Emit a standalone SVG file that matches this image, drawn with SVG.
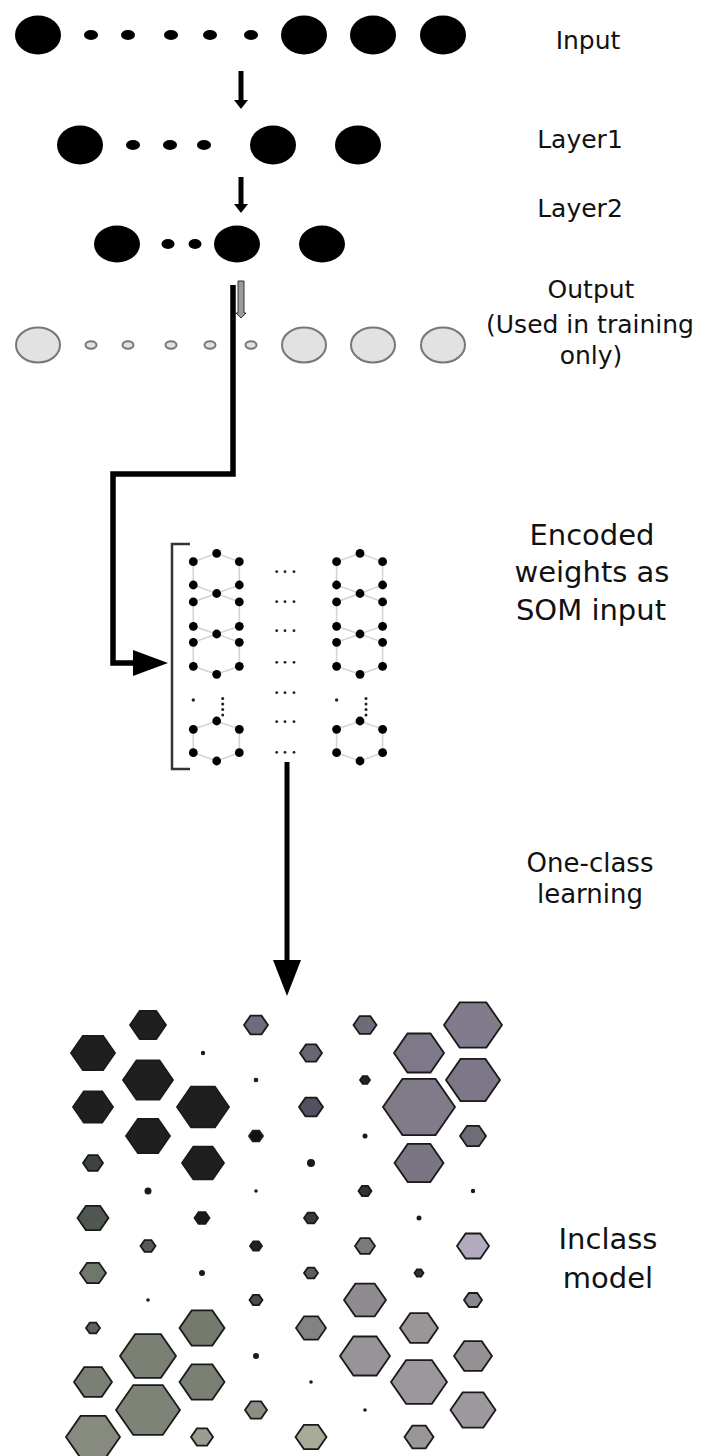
<svg xmlns="http://www.w3.org/2000/svg" xmlns:xlink="http://www.w3.org/1999/xlink" width="701" height="1456" viewBox="0 0 701 1456">
<style>
.lbl{font-family:"DejaVu Sans","Liberation Sans",sans-serif;font-size:25px;fill:#111;text-anchor:middle}
.big{font-size:29px}
.mid{font-size:26px}
.blk{fill:#000}
.out{fill:#e2e2e2;stroke:#777;stroke-width:2}
.edge{fill:none;stroke:#d4d4d4;stroke-width:1.6}
.nd{fill:#000}
.sd{fill:#222}
.conn{fill:none;stroke:#000;stroke-width:5.5}
.dot{fill:#1a1a1a}
</style>
<defs>
<path id="hx" d="M-1,0 L-0.46,-0.78 L0.46,-0.78 L1,0 L0.46,0.78 L-0.46,0.78 Z" stroke="#1a1a1a" stroke-width="1.8" vector-effect="non-scaling-stroke"/>
<g id="somcol">
<path class="edge" d="M216.7,553.3 L193.3,561.7 L193.3,585 L216.7,593.5 L239.3,585 L239.3,561.7 Z M216.7,593.5 L193.3,601.9 L193.3,626.3 L216.7,634 L239.3,626.3 L239.3,601.9 Z M216.7,634 L193.3,642.3 L193.3,666.3 L216.7,674.3 L239.3,666.3 L239.3,642.3 Z M216.7,721 L193.3,729.3 L193.3,752.7 L216.7,761 L239.3,752.7 L239.3,729.3 Z"/>
<circle class="nd" cx="216.7" cy="553.3" r="4.4"/>
<circle class="nd" cx="193.3" cy="561.7" r="4.4"/>
<circle class="nd" cx="239.3" cy="561.7" r="4.4"/>
<circle class="nd" cx="193.3" cy="585" r="4.4"/>
<circle class="nd" cx="239.3" cy="585" r="4.4"/>
<circle class="nd" cx="216.7" cy="593.5" r="4.4"/>
<circle class="nd" cx="193.3" cy="601.9" r="4.4"/>
<circle class="nd" cx="239.3" cy="601.9" r="4.4"/>
<circle class="nd" cx="193.3" cy="626.3" r="4.4"/>
<circle class="nd" cx="239.3" cy="626.3" r="4.4"/>
<circle class="nd" cx="216.7" cy="634" r="4.4"/>
<circle class="nd" cx="193.3" cy="642.3" r="4.4"/>
<circle class="nd" cx="239.3" cy="642.3" r="4.4"/>
<circle class="nd" cx="193.3" cy="666.3" r="4.4"/>
<circle class="nd" cx="239.3" cy="666.3" r="4.4"/>
<circle class="nd" cx="216.7" cy="674.3" r="4.4"/>
<circle class="nd" cx="216.7" cy="721" r="4.4"/>
<circle class="nd" cx="193.3" cy="729.3" r="4.4"/>
<circle class="nd" cx="239.3" cy="729.3" r="4.4"/>
<circle class="nd" cx="193.3" cy="752.7" r="4.4"/>
<circle class="nd" cx="239.3" cy="752.7" r="4.4"/>
<circle class="nd" cx="216.7" cy="761" r="4.4"/>
<circle class="sd" cx="193.3" cy="700" r="1.7"/>
<circle class="sd" cx="222.7" cy="698.5" r="1.5"/>
<circle class="sd" cx="222.7" cy="704" r="1.5"/>
<circle class="sd" cx="222.7" cy="709.5" r="1.5"/>
<circle class="sd" cx="222.7" cy="715" r="1.5"/>
</g>
</defs>
<rect width="701" height="1456" fill="#fff"/>

<g id="input">
<ellipse class="blk" cx="38" cy="35" rx="23" ry="19.5"/>
<ellipse class="blk" cx="91" cy="35" rx="7" ry="5"/>
<ellipse class="blk" cx="128" cy="35" rx="7" ry="5"/>
<ellipse class="blk" cx="171" cy="35" rx="7" ry="5"/>
<ellipse class="blk" cx="210" cy="35" rx="7" ry="5"/>
<ellipse class="blk" cx="251" cy="35" rx="7" ry="5"/>
<ellipse class="blk" cx="304" cy="35" rx="23" ry="19.5"/>
<ellipse class="blk" cx="373" cy="35" rx="23" ry="19.5"/>
<ellipse class="blk" cx="443" cy="35" rx="23" ry="19.5"/>
<text class="lbl" x="588" y="49">Input</text>
</g>

<g id="layer1">
<ellipse class="blk" cx="80" cy="145" rx="23" ry="19.5"/>
<ellipse class="blk" cx="133" cy="145" rx="7" ry="5"/>
<ellipse class="blk" cx="170" cy="145" rx="7" ry="5"/>
<ellipse class="blk" cx="204" cy="145" rx="7" ry="5"/>
<ellipse class="blk" cx="273" cy="145" rx="23" ry="19.5"/>
<ellipse class="blk" cx="358" cy="145" rx="23" ry="19.5"/>
<text class="lbl" x="580" y="148">Layer1</text>
</g>

<g id="layer2">
<ellipse class="blk" cx="117" cy="244" rx="23" ry="18.5"/>
<ellipse class="blk" cx="168" cy="244" rx="6.5" ry="5"/>
<ellipse class="blk" cx="195" cy="244" rx="6.5" ry="5"/>
<ellipse class="blk" cx="237" cy="244" rx="23" ry="18.5"/>
<ellipse class="blk" cx="322" cy="244" rx="23" ry="18.5"/>
<text class="lbl" x="580" y="217">Layer2</text>
</g>

<g id="output">
<ellipse class="out" cx="38" cy="345" rx="22" ry="17.5"/>
<ellipse class="out" cx="91" cy="345" rx="5.5" ry="3.8"/>
<ellipse class="out" cx="128" cy="345" rx="5.5" ry="3.8"/>
<ellipse class="out" cx="171" cy="345" rx="5.5" ry="3.8"/>
<ellipse class="out" cx="210" cy="345" rx="5.5" ry="3.8"/>
<ellipse class="out" cx="251" cy="345" rx="5.5" ry="3.8"/>
<ellipse class="out" cx="304" cy="345" rx="22" ry="17.5"/>
<ellipse class="out" cx="373" cy="345" rx="22" ry="17.5"/>
<ellipse class="out" cx="443" cy="345" rx="22" ry="17.5"/>
<text class="lbl" x="591" y="298">Output</text>
<text class="lbl" x="590" y="333">(Used in training</text>
<text class="lbl" x="591" y="364">only)</text>
</g>

<g id="som-input">
<path d="M190,544 L172,544 L172,769 L190,769" fill="none" stroke="#333" stroke-width="2.5"/>
<use xlink:href="#somcol" href="#somcol"/>
<use xlink:href="#somcol" href="#somcol" transform="translate(143.3,0)"/>
<g class="sd">
<circle cx="276.7" cy="571.7" r="1.4"/><circle cx="285" cy="571.7" r="1.4"/><circle cx="294" cy="571.7" r="1.4"/>
<circle cx="276.7" cy="601.7" r="1.4"/><circle cx="285" cy="601.7" r="1.4"/><circle cx="294" cy="601.7" r="1.4"/>
<circle cx="276.7" cy="630.7" r="1.4"/><circle cx="285" cy="630.7" r="1.4"/><circle cx="294" cy="630.7" r="1.4"/>
<circle cx="276.7" cy="662.3" r="1.4"/><circle cx="285" cy="662.3" r="1.4"/><circle cx="294" cy="662.3" r="1.4"/>
<circle cx="276.7" cy="692.7" r="1.4"/><circle cx="285" cy="692.7" r="1.4"/><circle cx="294" cy="692.7" r="1.4"/>
<circle cx="276.7" cy="721.7" r="1.4"/><circle cx="285" cy="721.7" r="1.4"/><circle cx="294" cy="721.7" r="1.4"/>
<circle cx="276.7" cy="752.3" r="1.4"/><circle cx="285" cy="752.3" r="1.4"/><circle cx="294" cy="752.3" r="1.4"/>
</g>
<text class="lbl big" x="592" y="545">Encoded</text>
<text class="lbl big" x="592" y="582">weights as</text>
<text class="lbl big" x="591" y="620">SOM input</text>
</g>

<g id="one-class-label">
<text class="lbl mid" x="590" y="872">One-class</text>
<text class="lbl mid" x="590" y="903">learning</text>
</g>

<g id="inclass-model">
<use href="#hx" transform="translate(93,1053) scale(22)" fill="#1f1f1f"/>
<use href="#hx" transform="translate(93,1107) scale(20)" fill="#1f1f1f"/>
<use href="#hx" transform="translate(93,1163) scale(10)" fill="#3d433f"/>
<use href="#hx" transform="translate(93,1218) scale(15.5)" fill="#505750"/>
<use href="#hx" transform="translate(93,1273) scale(13)" fill="#6f766a"/>
<use href="#hx" transform="translate(93,1328) scale(7)" fill="#5d615b"/>
<use href="#hx" transform="translate(93,1382) scale(19)" fill="#7b8076"/>
<use href="#hx" transform="translate(93,1437) scale(27)" fill="#868a7f"/>
<use href="#hx" transform="translate(148,1025) scale(18)" fill="#1f1f1f"/>
<use href="#hx" transform="translate(148,1080) scale(25)" fill="#1f1f1f"/>
<use href="#hx" transform="translate(148,1136) scale(22)" fill="#1f1f1f"/>
<circle class="dot" cx="148" cy="1191" r="3.5"/>
<use href="#hx" transform="translate(148,1246) scale(7.5)" fill="#555a55"/>
<circle class="dot" cx="148" cy="1300" r="1.8"/>
<use href="#hx" transform="translate(148,1356) scale(28)" fill="#7b8074"/>
<use href="#hx" transform="translate(148,1410) scale(32)" fill="#7e8378"/>
<circle class="dot" cx="203" cy="1053" r="2.2"/>
<use href="#hx" transform="translate(203,1107) scale(26)" fill="#1f1f1f"/>
<use href="#hx" transform="translate(203,1163) scale(21)" fill="#1f1f1f"/>
<use href="#hx" transform="translate(202,1218) scale(7.5)" fill="#1a1a1a"/>
<circle class="dot" cx="202" cy="1273" r="3"/>
<use href="#hx" transform="translate(202,1328) scale(22.5)" fill="#747a6e"/>
<use href="#hx" transform="translate(202,1382) scale(22.5)" fill="#7b8075"/>
<use href="#hx" transform="translate(202,1437) scale(11)" fill="#9a9d8f"/>
<use href="#hx" transform="translate(256,1025) scale(12)" fill="#6f6b7b"/>
<circle class="dot" cx="256" cy="1080" r="2.3"/>
<use href="#hx" transform="translate(256,1136) scale(7)" fill="#111"/>
<circle class="dot" cx="256" cy="1191" r="1.8"/>
<use href="#hx" transform="translate(256,1246) scale(6)" fill="#222"/>
<use href="#hx" transform="translate(256,1300) scale(6.5)" fill="#4a4d4a"/>
<circle class="dot" cx="256" cy="1356" r="3"/>
<use href="#hx" transform="translate(256,1410) scale(11)" fill="#8b8f83"/>
<use href="#hx" transform="translate(311,1053) scale(11)" fill="#6a6574"/>
<use href="#hx" transform="translate(311,1107) scale(12)" fill="#555060"/>
<circle class="dot" cx="311" cy="1163" r="4"/>
<use href="#hx" transform="translate(311,1218) scale(7)" fill="#3a3a3a"/>
<use href="#hx" transform="translate(311,1273) scale(7)" fill="#5f5d60"/>
<use href="#hx" transform="translate(311,1328) scale(15)" fill="#858286"/>
<circle class="dot" cx="311" cy="1382" r="1.8"/>
<use href="#hx" transform="translate(311,1437) scale(15.5)" fill="#a8ab98"/>
<use href="#hx" transform="translate(365,1025) scale(11.5)" fill="#6f6a78"/>
<use href="#hx" transform="translate(365,1080) scale(5)" fill="#222"/>
<circle class="dot" cx="365" cy="1136" r="2.5"/>
<use href="#hx" transform="translate(365,1191) scale(6.5)" fill="#333"/>
<use href="#hx" transform="translate(365,1246) scale(10)" fill="#7d7a7e"/>
<use href="#hx" transform="translate(365,1300) scale(21)" fill="#8f8b90"/>
<use href="#hx" transform="translate(365,1356) scale(25)" fill="#989398"/>
<circle class="dot" cx="365" cy="1410" r="1.8"/>
<use href="#hx" transform="translate(419,1053) scale(25)" fill="#7f7888"/>
<use href="#hx" transform="translate(419,1107) scale(36)" fill="#817b89"/>
<use href="#hx" transform="translate(419,1163) scale(24.5)" fill="#7a7483"/>
<circle class="dot" cx="419" cy="1218" r="2.5"/>
<use href="#hx" transform="translate(419,1273) scale(4.5)" fill="#333"/>
<use href="#hx" transform="translate(419,1328) scale(19)" fill="#9a9599"/>
<use href="#hx" transform="translate(419,1382) scale(28)" fill="#9c979c"/>
<use href="#hx" transform="translate(419,1437) scale(14.5)" fill="#9a9599"/>
<use href="#hx" transform="translate(473,1025) scale(29)" fill="#827b8c"/>
<use href="#hx" transform="translate(473,1080) scale(27)" fill="#7e7787"/>
<use href="#hx" transform="translate(473,1136) scale(13)" fill="#6f6b77"/>
<circle class="dot" cx="473" cy="1191" r="2.2"/>
<use href="#hx" transform="translate(473,1246) scale(16)" fill="#b4aabd"/>
<use href="#hx" transform="translate(473,1300) scale(9)" fill="#8a858e"/>
<use href="#hx" transform="translate(473,1356) scale(19)" fill="#959094"/>
<use href="#hx" transform="translate(473,1410) scale(22.5)" fill="#9e999e"/>
<text class="lbl big" x="608" y="1249">Inclass</text>
<text class="lbl big" x="608" y="1288">model</text>
</g>

<g id="connectors">
<line x1="241" y1="71" x2="241" y2="101" stroke="#000" stroke-width="5"/>
<polygon points="234,100 248,100 241,109" fill="#000"/>
<line x1="241" y1="177" x2="241" y2="205" stroke="#000" stroke-width="5"/>
<polygon points="234,204 248,204 241,213" fill="#000"/>
<polygon points="238,281 244,281 244,313 246,313 241,318 236,313 238,313" fill="#9a9a9a" stroke="#333" stroke-width="1"/>
<polyline class="conn" points="233,285 233,474 113,474 113,663 136,663"/>
<polygon points="133,650 168,663 133,676" fill="#000"/>
<line x1="287" y1="762" x2="287" y2="962" stroke="#000" stroke-width="5"/>
<polygon points="273,960 301,960 287,996" fill="#000"/>
</g>
</svg>
